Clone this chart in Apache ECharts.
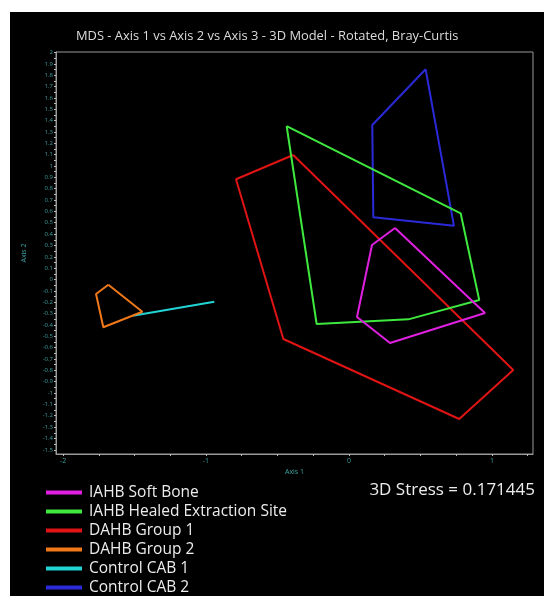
<!DOCTYPE html>
<html>
<head>
<meta charset="utf-8">
<script src="https://cdn.jsdelivr.net/npm/echarts@6/dist/echarts.min.js"></script>
<style>
html,body{margin:0;padding:0;background:#fff;width:544px;height:596px;overflow:hidden;}
#c{position:absolute;left:10px;top:12px;width:534px;height:610px;}
</style>
</head>
<body>
<div id="c"></div>
<script>
// Data (Axis 1, Axis 2) polygon vertices
const seriesNames = ['IAHB Soft Bone','IAHB Healed Extraction Site','DAHB Group 1','DAHB Group 2','Control CAB 1','Control CAB 2'];
const iahbSoftBone = [[0.322,0.454],[0.951,-0.295],[0.287,-0.559],[0.056,-0.330],[0.161,0.304],[0.322,0.454]];
const iahbHealed = [[-0.436,1.352],[0.781,0.583],[0.911,-0.181],[0.415,-0.351],[-0.226,-0.392],[-0.436,1.352]];
const dahbGroup1 = [[-0.390,1.097],[1.149,-0.797],[0.771,-1.229],[-0.459,-0.524],[-0.790,0.883],[-0.390,1.097]];
const dahbGroup2 = [[-1.683,-0.046],[-1.445,-0.284],[-1.718,-0.421],[-1.769,-0.128],[-1.683,-0.046]];
const controlCab1 = [[-1.513,-0.319],[-0.942,-0.196]];
const controlCab2 = [[0.536,1.852],[0.734,0.474],[0.170,0.548],[0.163,1.361],[0.536,1.852]];
const seriesColors = ['#e020e0','#3ee83e','#e01414','#f07818','#22d4d4','#2a2ad8'];
const xTickLabels = [-2,-1,0,1];
const xMinorTicks = [-2,-1.75,-1.5,-1.25,-1,-0.75,-0.5,-0.25,0,0.25,0.5,0.75,1,1.25];
const yTickLabels = [2,1.9,1.8,1.7,1.6,1.5,1.4,1.3,1.2,1.1,1,0.9,0.8,0.7,0.6,0.5,0.4,0.3,0.2,0.1,0,-0.1,-0.2,-0.3,-0.4,-0.5,-0.6,-0.7,-0.8,-0.9,-1,-1.1,-1.2,-1.3,-1.4,-1.5];
const yMinorTicks = [2,1.95,1.9,1.85,1.8,1.75,1.7,1.65,1.6,1.55,1.5,1.45,1.4,1.35,1.3,1.25,1.2,1.15,1.1,1.05,1,0.95,0.9,0.85,0.8,0.75,0.7,0.65,0.6,0.55,0.5,0.45,0.4,0.35,0.3,0.25,0.2,0.15,0.1,0.05,0,-0.05,-0.1,-0.15,-0.2,-0.25,-0.3,-0.35,-0.4,-0.45,-0.5,-0.55,-0.6,-0.65,-0.7,-0.75,-0.8,-0.85,-0.9,-0.95,-1,-1.05,-1.1,-1.15,-1.2,-1.25,-1.3,-1.35,-1.4,-1.45,-1.5];
const titleText = 'MDS - Axis 1 vs Axis 2 vs Axis 3 - 3D Model - Rotated, Bray-Curtis';
const stressText = '3D Stress = 0.171445';

const allData = [iahbSoftBone, iahbHealed, dahbGroup1, dahbGroup2, controlCab1, controlCab2];
const FONT = '"Open Sans", "Noto Sans", sans-serif';
const chart = echarts.init(document.getElementById('c'), null, {renderer:'canvas'});
const fmt = v => String(Math.round(v*100)/100);
chart.setOption({
  backgroundColor:'#000',
  animation:false,
  title:{text:titleText,left:61,top:13,textStyle:{color:'#dcdcdc',fontSize:12.9,fontWeight:'normal',fontFamily:FONT}},
  grid:{left:46,top:40,right:11,bottom:168,show:true,borderColor:'#9a9a9a',borderWidth:1,backgroundColor:'transparent'},
  legend:{
    orient:'vertical',left:36,top:471,itemGap:0,itemWidth:36,itemHeight:4,icon:'rect',padding:0,
    data:seriesNames,
    textStyle:{color:'#ececec',fontSize:15.5,fontFamily:FONT,lineHeight:19,padding:[0,0,0,2]},
    selectedMode:false
  },
  graphic:[{type:'text',right:9,top:470,style:{text:stressText,fill:'#ececec',font:'17px '+FONT}}],
  xAxis:{
    type:'value',min:-2.049,max:1.287,
    name:'Axis 1',nameLocation:'middle',nameGap:14,
    nameTextStyle:{color:'#3aa0a0',fontSize:7,fontFamily:FONT},
    splitLine:{show:false},
    axisLine:{show:true,onZero:false,lineStyle:{color:'#9a9a9a',width:1}},
    axisTick:{show:true,customValues:xMinorTicks,length:2,lineStyle:{color:'#bbbbbb'}},
    axisLabel:{customValues:xTickLabels,color:'#3aa0a0',fontSize:7,margin:3,fontFamily:FONT,formatter:fmt}
  },
  yAxis:{
    type:'value',min:-1.537,max:2.004,
    name:'Axis 2',nameLocation:'middle',nameGap:29,nameRotate:90,
    nameTextStyle:{color:'#3aa0a0',fontSize:7,fontFamily:FONT},
    splitLine:{show:false},
    axisLine:{show:true,onZero:false,lineStyle:{color:'#9a9a9a',width:1}},
    axisTick:{show:true,customValues:yMinorTicks,length:2,lineStyle:{color:'#bbbbbb'}},
    axisLabel:{customValues:yTickLabels,color:'#3aa0a0',fontSize:6,margin:3,fontFamily:FONT,formatter:fmt}
  },
  series: allData.map((d,i)=>({
    name:seriesNames[i],type:'line',data:d,showSymbol:false,symbol:'none',
    lineStyle:{color:seriesColors[i],width:2},itemStyle:{color:seriesColors[i]},
    z:10-i
  }))
});
</script>
</body>
</html>
